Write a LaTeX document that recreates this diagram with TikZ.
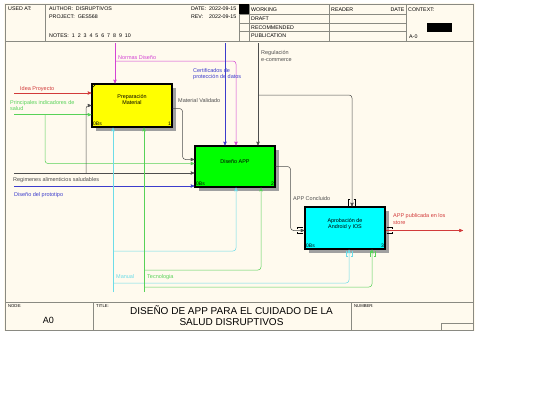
\documentclass[tikz,border=0pt]{standalone}
\usepackage{fontspec}
\setmainfont{Liberation Sans}
\usetikzlibrary{arrows}
\usetikzlibrary{positioning}

\definecolor{paper}{HTML}{FFFAEE}
\definecolor{framegray}{HTML}{8A8A82}
\definecolor{idefred}{HTML}{D23A3A}
\definecolor{idefgreen}{HTML}{58D258}
\definecolor{idefblue}{HTML}{3C3CCC}
\definecolor{idefmag}{HTML}{D444D4}
\definecolor{idefcyan}{HTML}{6CDCE8}
\definecolor{idefgray}{HTML}{4E4E4E}
\definecolor{shadowgray}{HTML}{A0A0A0}
\definecolor{boxyellow}{HTML}{FFFF00}
\definecolor{boxgreen}{HTML}{00FF00}
\definecolor{boxcyan}{HTML}{00FFFF}

\begin{document}
\begin{tikzpicture}[x=1pt,y=-1pt,>=stealth',
    box node/.style={rectangle,draw,line width=1.1pt,minimum width=80pt,inner sep=0pt},
    box text/.style={font=\fontsize{5.4}{6.4}\selectfont,align=center,inner sep=0pt},
    corner/.style={font=\fontsize{5}{5}\selectfont,inner sep=1.5pt},
    tag/.style={font=\fontsize{5.5}{6.6}\selectfont,inner sep=0pt,align=left},
    hdr/.style={font=\fontsize{5.3}{6}\selectfont,inner sep=0pt,anchor=west},
    small hdr/.style={hdr,font=\fontsize{4.2}{5}\selectfont},
    rule/.style={framegray,line width=0.6pt},
    flow/.style={->,line width=0.5pt,rounded corners=3pt},
    tunnel/.style={line width=0.35pt}]
  \useasboundingbox (0,0) rectangle (540,405);
  \fill[paper] (4,3) rectangle (475,331);

  % frame, header and footer
  \draw[rule] (5,4) rectangle (473,330);
  \draw[rule] (5,41.5) -- (473,41.5);
  \draw[rule] (45,4) -- (45,41.5);
  \draw[rule] (239,4) -- (239,41.5);
  \draw[rule] (249,4) -- (249,41.5);
  \draw[rule] (329,4) -- (329,41.5);
  \draw[rule] (406,4) -- (406,41.5);
  \foreach \y in {14.3,22.8,31.6}
    \draw[rule] (239,\y) -- (406,\y);
  \fill[black] (239,4) rectangle (249,14.3);
  \fill[black] (427,23) rectangle (452,32);
  \draw[rule] (5,302) -- (473,302);
  \draw[rule] (93,302) -- (93,330);
  \draw[rule] (351,302) -- (351,330);
  \draw[rule] (441,330) |- (473,323);

  \node[hdr] (usedat) at (8,9) {USED AT:};
  \node[hdr] (author) at (49,9) {AUTHOR:\ \ DISRUPTIVOS};
  \node[hdr] (project) at (49,17) {PROJECT:\ \ GES568};
  \node[hdr] (notes) at (49,36) {NOTES:\ \ 1\ \ 2\ \ 3\ \ 4\ \ 5\ \ 6\ \ 7\ \ 8\ \ 9\ \ 10};
  \node[hdr,anchor=east] (date) at (236.5,9) {DATE:\ \ 2022-09-15};
  \node[hdr,anchor=east] (rev) at (236.5,17) {REV:\ \ \ \ 2022-09-15};
  \node[hdr] (working) at (251,9.2) {WORKING};
  \node[hdr] (draft) at (251,18.5) {DRAFT};
  \node[hdr] (recom) at (251,27.2) {RECOMMENDED};
  \node[hdr] (public) at (251,36) {PUBLICATION};
  \node[hdr] (reader) at (331,9.2) {READER};
  \node[hdr,anchor=east] (rdate) at (404.5,9.2) {DATE};
  \node[hdr] (context) at (408,9.2) {CONTEXT:};
  \node[hdr] (ctxnode) at (409,37) {A-0};
  \node[small hdr] (nodelbl) at (8,306) {NODE:};
  \node[small hdr] (titlelbl) at (96,306) {TITLE:};
  \node[small hdr] (numlbl) at (354,306) {NUMBER:};
  \node[font=\fontsize{9}{10}\selectfont,inner sep=0pt] (nodeA0) at (48.5,320.5) {A0};
  \node[font=\fontsize{10}{11.5}\selectfont,align=center,inner sep=0pt] (title) at (231.5,315.5)
    {DISEÑO DE APP PARA EL CUIDADO DE LA\\SALUD DISRUPTIVOS};

  % activity boxes
  \fill[shadowgray] (96,88) rectangle (176,131);
  \fill[shadowgray] (199,150) rectangle (279,191);
  \fill[shadowgray] (309,211) rectangle (389,253);
  \node[box node,fill=boxyellow,minimum height=43pt] (prep) at (132,105.5) {};
  \node[box node,fill=boxgreen,minimum height=41pt] (diseno) at (235,166.5) {};
  \node[box node,fill=boxcyan,minimum height=42pt] (aprob) at (345,228) {};
  \draw[line width=0.5pt] (92,88) -- (96,84);
  \node[box text] (prepT) at ([yshift=6pt]prep.center) {Preparación\\Material};
  \node[box text] (disenoT) at ([yshift=4.5pt]diseno.center) {Diseño APP};
  \node[box text] (aprobT) at ([yshift=4pt]aprob.center) {Aprobación de\\Android y IOS};
  \node[corner,anchor=south west] (prepB) at (prep.south west) {0Bs};
  \node[corner,anchor=south east] (prepN) at (prep.south east) {1};
  \node[corner,anchor=south west] (disenoB) at (diseno.south west) {0Bs};
  \node[corner,anchor=south east] (disenoN) at (diseno.south east) {2};
  \node[corner,anchor=south west] (aprobB) at (aprob.south west) {0Bs};
  \node[corner,anchor=south east] (aprobN) at (aprob.south east) {3};

  % inputs
  \coordinate (ideaIn) at (14,93);
  \coordinate (saludIn) at (14,114.7);
  \coordinate (saludSplit) at (45,114.7);
  \coordinate (regimIn) at (14,173);
  \coordinate (regimSplit) at (86,173);
  \coordinate (protoIn) at (14,186);
  \draw[flow,idefred] (ideaIn) -- (ideaIn -| prep.west);
  \draw[flow,idefgreen] (saludIn) -- (saludIn -| prep.west);
  \draw[flow,idefgreen] (saludSplit) |- ([yshift=3pt]diseno.west);
  \draw[flow,idefgray] (regimIn) -- (regimIn -| diseno.west);
  \draw[flow,idefgray] (regimSplit) |- (prep.west);
  \draw[flow,idefblue] (protoIn) -- (protoIn -| diseno.west);
  \draw[flow,idefgray] ([yshift=-3pt]prep.east) -- ++(10,0) |- ([yshift=7pt]diseno.west);
  \draw[flow,idefgray] (diseno.east) -- ++(15,0) |- ([yshift=-2.5pt]aprob.west);

  % controls
  \coordinate (normasIn) at (115,43);
  \coordinate (normasSplit) at (115,61);
  \coordinate (certIn) at (225,43);
  \coordinate (reguIn) at (258,43);
  \coordinate (reguSplit) at (258,95);
  \draw[flow,idefmag] (normasIn) -- (normasIn |- prep.north);
  \draw[flow,idefmag] (normasSplit) -| ([xshift=1pt]diseno.north);
  \draw[flow,idefblue] (certIn) -- (certIn |- diseno.north);
  \draw[flow,idefgray] (reguIn) -- (reguIn |- diseno.north);
  \draw[flow,idefgray] (reguSplit) -| ([xshift=7pt]aprob.north);

  % mechanisms
  \coordinate (manualIn) at (113,292);
  \coordinate (manualA) at (113,251);
  \coordinate (manualB) at (113,283);
  \coordinate (tecnoIn) at (144,292);
  \coordinate (tecnoA) at (144,270);
  \coordinate (tecnoB) at (144,287);
  \draw[flow,idefcyan] (manualIn) -- (manualIn |- prep.south);
  \draw[flow,idefcyan] (manualA) -| ([xshift=1pt]diseno.south);
  \draw[flow,idefcyan] (manualB) -| ([xshift=4pt]aprob.south);
  \draw[flow,idefgreen] (tecnoIn) -- (tecnoIn |- prep.south);
  \draw[flow,idefgreen] (tecnoA) -| ([xshift=26pt]diseno.south);
  \draw[flow,idefgreen] (tecnoB) -| ([xshift=27pt]aprob.south);

  % output
  \coordinate (storeOut) at (463,230.5);
  \draw[flow,idefred] ([yshift=-2.5pt]aprob.east) -- (storeOut);

  % tunnels round box 3
  \draw[tunnel] (350,199.5) -| (348.5,205.5);
  \draw[tunnel] (353.5,199.5) -| (355,205.5);
  \draw[tunnel] (303,227.5) -| (297.5,229);
  \draw[tunnel] (303,233.5) -| (297.5,232);
  \draw[tunnel] (386.5,227.5) -| (392.5,229);
  \draw[tunnel] (386.5,233.5) -| (392.5,232);
  \draw[tunnel,idefcyan] (346.5,250.5) |- (347.8,256.5);
  \draw[tunnel,idefcyan] (352,250.5) |- (350.8,256.5);
  \draw[tunnel,idefgreen] (370,250.5) |- (371.3,256.5);
  \draw[tunnel,idefgreen] (375.5,250.5) |- (374.3,256.5);

  % labels
  \node[tag,idefred,anchor=south west] (ideaL) at (20,91.5) {Idea Proyecto};
  \node[tag,idefgreen,anchor=north west] (saludL) at (10,100) {Principales indicadores de\\salud};
  \node[tag,idefmag,anchor=south west] (normasL) at (118,59.5) {Normas Diseño};
  \node[tag,idefblue,anchor=north west] (certL) at (193,68) {Certificados de\\protección de datos};
  \node[tag,idefgray,anchor=north west] (reguL) at (261,50.5) {Regulación\\e-commerce};
  \node[tag,idefgray,anchor=west] (matL) at (178,101) {Material Validado};
  \node[tag,idefgray,anchor=west] (regimL) at (13,180) {Regimenes alimenticios saludables};
  \node[tag,idefblue,anchor=west] (protoL) at (14,195) {Diseño del prototipo};
  \node[tag,idefgray,anchor=west] (concL) at (293,199) {APP Concluido};
  \node[tag,idefred,anchor=north west] (storeL) at (393,213.5) {APP publicada en los\\store};
  \node[tag,idefcyan,anchor=west] (manualL) at (116,277) {Manual};
  \node[tag,idefgreen,anchor=west] (tecnoL) at (147,277) {Tecnologia};
\end{tikzpicture}
\end{document}
